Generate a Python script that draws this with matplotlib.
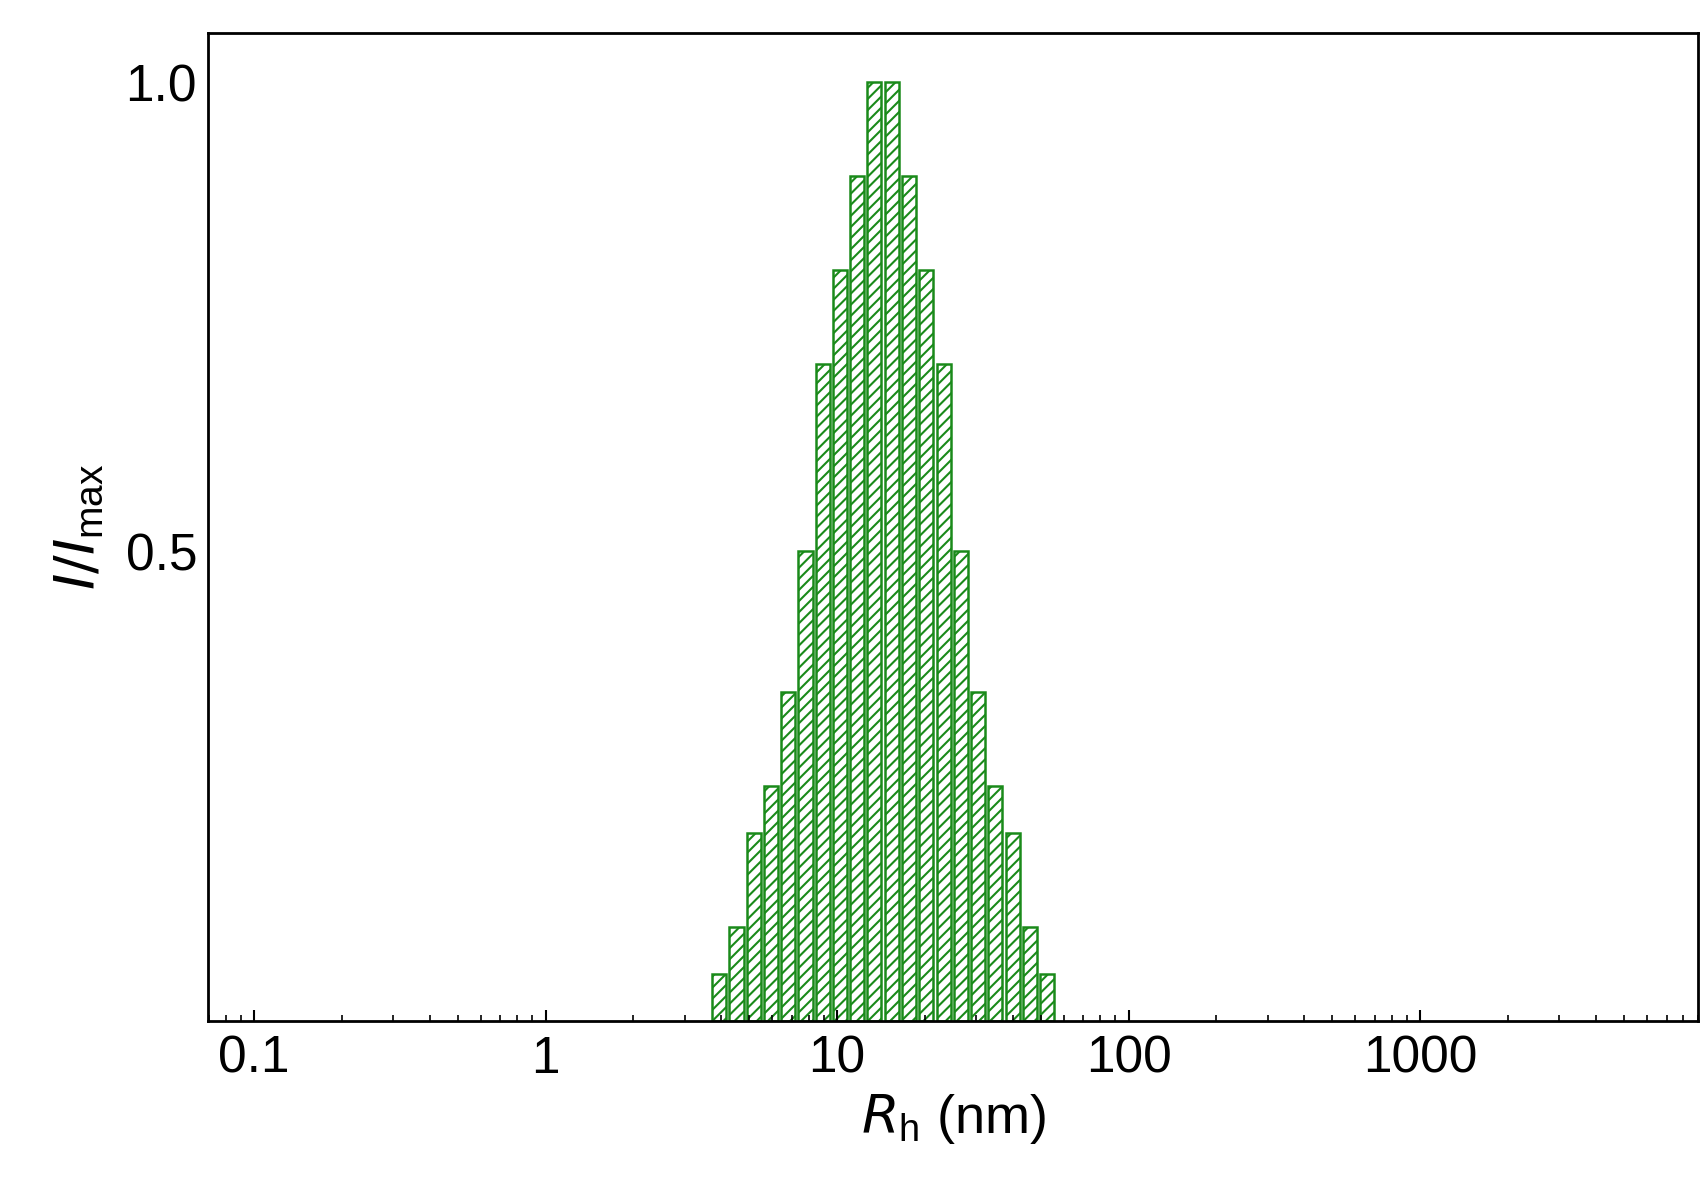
import matplotlib
matplotlib.use("Agg")
import matplotlib.pyplot as plt
import numpy as np

plt.rcParams['font.family'] = ['Liberation Sans', 'DejaVu Sans']
plt.rcParams['hatch.color'] = '#1a8a1a'
plt.rcParams['hatch.linewidth'] = 1.5

rh_nm = [3.94, 4.52, 5.18, 5.93, 6.80, 7.79, 8.93, 10.2, 11.7, 13.4,
         15.4, 17.7, 20.2, 23.2, 26.6, 30.5, 34.9, 40.0, 45.9, 52.6]
intensity = [0.05, 0.10, 0.20, 0.25, 0.35, 0.50, 0.70, 0.80, 0.90, 1.00,
             1.00, 0.90, 0.80, 0.70, 0.50, 0.35, 0.25, 0.20, 0.10, 0.05]
xtick_vals = [0.1, 1, 10, 100, 1000]
xtick_labels = ['0.1', '1', '10', '100', '1000']

fig = plt.figure(figsize=(17.06, 11.87), dpi=100)
ax = fig.add_axes([0.122, 0.14, 0.8735, 0.832])

c = np.array(rh_nm)
half = 10 ** 0.0242
left = c / half
width = c * half - left
ax.bar(left, intensity, width=width, align='edge', facecolor='white',
       edgecolor='#1a8a1a', linewidth=1.8, hatch='///')

ax.set_xscale('log')
ax.set_xlim(0.0696, 9000)
ax.set_ylim(0, 1.052)
ax.set_xticks(xtick_vals)
ax.set_xticklabels(xtick_labels)
ax.set_yticks([0.5, 1.0])
ax.set_yticklabels(['0.5', '1.0'])
ax.tick_params(axis='both', labelsize=37, width=1.5)
ax.tick_params(axis='x', which='major', length=8, direction='in', pad=10)
ax.tick_params(axis='x', which='minor', length=4, direction='in', width=1.2)
ax.tick_params(axis='y', length=0, pad=8)
for s in ax.spines.values():
    s.set_linewidth(2)

ax.set_xlabel(r'$R_\mathregular{h}$ (nm)', fontsize=39, labelpad=6)
ax.set_ylabel(r'$I/I_\mathregular{max}$', fontsize=40, labelpad=14)
fig.savefig('out.png', dpi=100)
